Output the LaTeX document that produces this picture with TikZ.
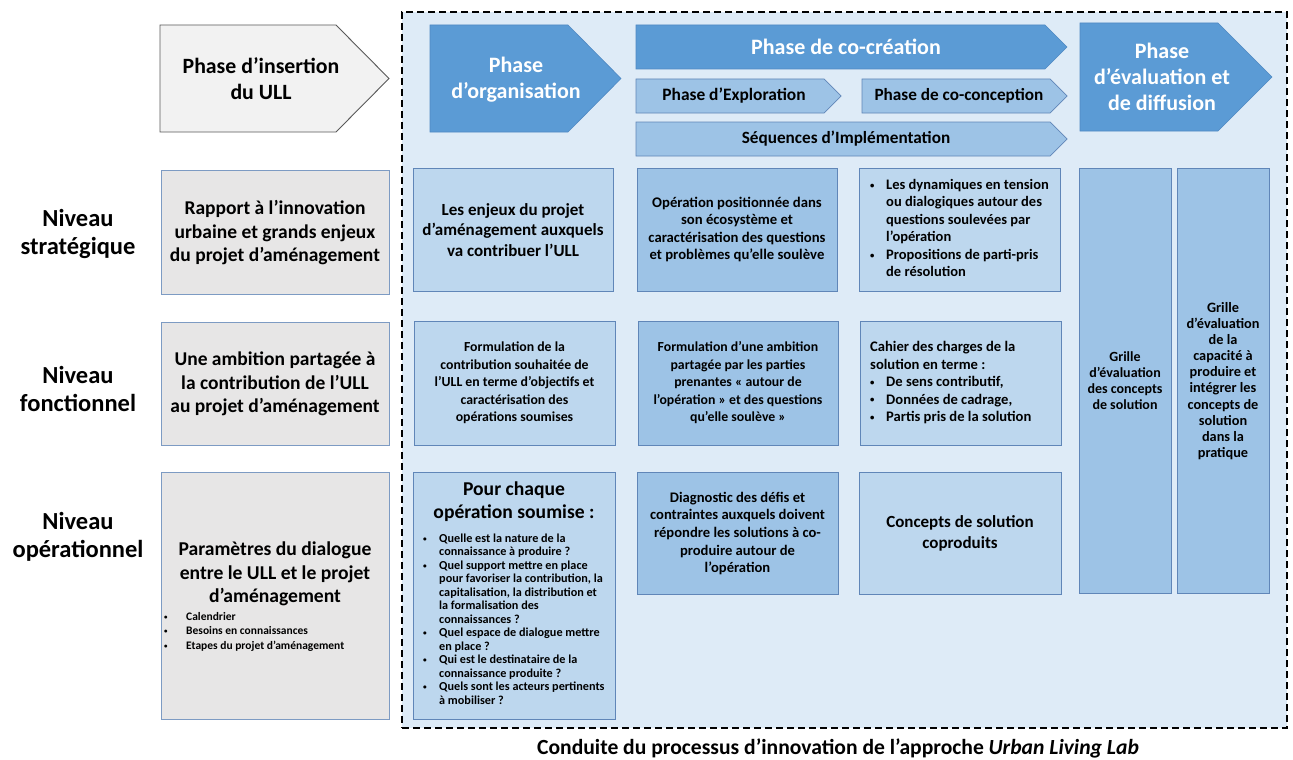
\documentclass[tikz,border=0pt]{standalone}
\usepackage{fontspec}
\setmainfont{Carlito}
\definecolor{bgblue}{RGB}{222,235,247}
\definecolor{darkchev}{RGB}{91,155,213}
\definecolor{darkchevline}{RGB}{80,137,195}
\definecolor{midblue}{RGB}{157,195,230}
\definecolor{lightblue}{RGB}{189,215,238}
\definecolor{boxline}{RGB}{96,134,184}
\definecolor{grayline}{RGB}{125,155,195}
\definecolor{grayfill}{RGB}{231,230,230}
\definecolor{insfill}{RGB}{242,242,242}
\definecolor{insline}{RGB}{89,89,89}
\newcommand\fs[2]{\fontsize{#1}{#2}\selectfont\bfseries}
\newcommand\chev[6]{\draw[#1] (#2,#3) -- (#4,#3) -- (#5,{(#3+#6)/2}) -- (#4,#6) -- (#2,#6) -- cycle;}
\newcommand\bu[1]{\makebox[#1pt][l]{\raisebox{0.08em}{\scalebox{0.6}{•}}}&}
\begin{document}
\begin{tikzpicture}[x=1pt,y=-1pt,
  box/.style={draw=boxline, line width=0.8pt, inner sep=0pt},
  lbox/.style={box, fill=lightblue},
  mbox/.style={box, fill=midblue},
  gbox/.style={box, draw=grayline, fill=grayfill},
  txt/.style={inner sep=0pt, align=center},
  darkc/.style={fill=darkchev, draw=darkchevline, line width=0.6pt},
  midc/.style={fill=midblue, draw=boxline, line width=0.7pt},
  insc/.style={fill=insfill, draw=insline, line width=0.9pt},
  wtxt/.style={txt, text=white}]
\useasboundingbox (0,0) rectangle (1293,760);
\fill[white] (0,0) rectangle (1293,760);

% frame
\node[draw=black, fill=bgblue, line width=2.3pt, dash pattern=on 7pt off 4pt,
  minimum width=885pt, minimum height=716pt, inner sep=0pt] (frame) at (844.5,370) {};

% chevrons
\chev{insc}{160}{25}{336}{389}{132}
\node[txt, font=\fs{21.8}{26}] (ins) at (261,79) {Phase d’insertion\\du ULL};
\chev{darkc}{430}{25}{568}{621}{132}
\node[wtxt, font=\fs{22}{26}] (org) at (516,80) {Phase\\d’organisation};
\chev{darkc}{636}{25}{1045}{1067}{69}
\node[wtxt, font=\fs{22}{26}] (cocrea) at (846,47) {Phase de co-création};
\chev{midc}{636}{79}{824}{841}{113}
\node[txt, font=\fs{17.4}{19}] (explo) at (734,96) {Phase d’Exploration};
\chev{midc}{862}{79}{1050}{1067}{113}
\node[txt, font=\fs{17.2}{19}] (cocon) at (959,96) {Phase de co-conception};
\chev{midc}{636}{122}{1050}{1067}{156}
\node[txt, font=\fs{17.2}{19}] (seq) at (846,139) {Séquences d’Implémentation};
\chev{darkc}{1080}{23}{1218}{1272}{131}
\node[wtxt, font=\fs{22}{26}] (eval) at (1162,77) {Phase\\d’évaluation et\\de diffusion};

% level labels
\node[txt, font=\fs{24.5}{28.5}] (nstrat) at (78,234) {Niveau\\stratégique};
\node[txt, font=\fs{24.5}{28.5}] (nfonc) at (78,389) {Niveau\\fonctionnel};
\node[txt, font=\fs{24.5}{28.5}] (nop) at (78,537) {Niveau\\opérationnel};

% left gray boxes
\node[gbox, minimum width=228pt, minimum height=124pt] (rap) at (275,232) {};
\node[txt, font=\fs{19.5}{23.5}] (rapt) at (275,233) {Rapport à l’innovation\\urbaine et grands enjeux\\du projet d’aménagement};
\node[gbox, minimum width=228pt, minimum height=123pt] (amb) at (275,383.5) {};
\node[txt, font=\fs{19.5}{23.5}] (ambt) at (275,384) {Une ambition partagée à\\la contribution de l’ULL\\au projet d’aménagement};
\node[gbox, minimum width=228pt, minimum height=247pt] (par) at (275,595.5) {};
\node[txt, font=\fs{19.6}{23.5}] (part) at (275,574) {Paramètres du dialogue\\entre le ULL et le projet\\d’aménagement};
\node[inner sep=0pt, anchor=west, font=\fs{11.5}{14.5}] (parl) at (164,632)
  {\begin{tabular}{@{}l@{}l@{}}\bu{22}Calendrier\\\bu{22}Besoins en connaissances\\\bu{22}Etapes du projet d’aménagement\end{tabular}};

% row 1
\node[lbox, minimum width=200pt, minimum height=123pt] (a1) at (513,229.5) {};
\node[txt, font=\fs{17}{20.5}] (a1t) at (513,230) {Les enjeux du projet\\d’aménagement auxquels\\va contribuer l’ULL};
\node[mbox, minimum width=200pt, minimum height=123pt] (b1) at (737,229.5) {};
\node[txt, font=\fs{14.7}{17.5}] (b1t) at (737,229.5) {Opération positionnée dans\\son écosystème et\\caractérisation des questions\\et problèmes qu’elle soulève};
\node[lbox, minimum width=201pt, minimum height=123pt] (c1) at (959.5,229.5) {};
\node[inner sep=0pt, anchor=west, font=\fs{14.5}{17.5}] (c1t) at (870,229.5)
  {\begin{tabular}{@{}l@{}l@{}}\bu{16}Les dynamiques en tension\\&ou dialogiques autour des\\&questions soulevées par\\&l’opération\\\bu{16}Propositions de parti-pris\\&de résolution\end{tabular}};

% tall boxes
\node[mbox, minimum width=92pt, minimum height=425pt] (d) at (1125,380.5) {};
\node[txt, font=\fs{14}{16}] (dt) at (1125,380.5) {Grille\\d’évaluation\\des concepts\\de solution};
\node[mbox, minimum width=92pt, minimum height=425pt] (e) at (1223,380.5) {};
\node[txt, font=\fs{14.3}{16.1}] (et) at (1223,381) {Grille\\d’évaluation\\de la\\capacité à\\produire et\\intégrer les\\concepts de\\solution\\dans la\\pratique};

% row 2
\node[lbox, minimum width=201pt, minimum height=124pt] (a2) at (514.5,383) {};
\node[txt, font=\fs{13.8}{17.5}] (a2t) at (514.5,383) {Formulation de la\\contribution souhaitée de\\l’ULL en terme d’objectifs et\\caractérisation des\\opérations soumises};
\node[mbox, minimum width=200pt, minimum height=124pt] (b2) at (738,383) {};
\node[txt, font=\fs{13.8}{17.5}] (b2t) at (738,383) {Formulation d’une ambition\\partagée par les parties\\prenantes « autour de\\l’opération » et des questions\\qu’elle soulève »};
\node[lbox, minimum width=201pt, minimum height=124pt] (c2) at (960.5,383) {};
\node[inner sep=0pt, anchor=west, font=\fs{14.6}{17.5}] (c2t) at (870,383)
  {\begin{tabular}{@{}l@{}l@{}}\multicolumn{2}{@{}l@{}}{Cahier des charges de la}\\\multicolumn{2}{@{}l@{}}{solution en terme :}\\\bu{16}De sens contributif,\\\bu{16}Données de cadrage,\\\bu{16}Partis pris de la solution\end{tabular}};

% row 3
\node[lbox, minimum width=202pt, minimum height=247pt] (a3) at (514,595.5) {};
\node[txt, font=\fs{19.6}{23}] (a3t) at (514,502) {Pour chaque\\opération soumise :};
\node[inner sep=0pt, anchor=west, font=\fs{12.2}{13.5}] (a3l) at (423,620.5)
  {\begin{tabular}{@{}l@{}l@{}}\bu{16}Quelle est la nature de la\\&connaissance à produire ?\\\bu{16}Quel support mettre en place\\&pour favoriser la contribution, la\\&capitalisation, la distribution et\\&la formalisation des\\&connaissances ?\\\bu{16}Quel espace de dialogue mettre\\&en place ?\\\bu{16}Qui est le destinataire de la\\&connaissance produite ?\\\bu{16}Quels sont les acteurs pertinents\\&à mobiliser ?\end{tabular}};
\node[mbox, minimum width=201pt, minimum height=122pt] (b3) at (737.5,533) {};
\node[txt, font=\fs{14.6}{17.7}] (b3t) at (737.5,533.5) {Diagnostic des défis et\\contraintes auxquels doivent\\répondre les solutions à co-\\produire autour de\\l’opération};
\node[lbox, minimum width=202pt, minimum height=122pt] (c3) at (960,533) {};
\node[txt, font=\fs{17}{21}] (c3t) at (960,533.5) {Concepts de solution\\coproduits};

% caption
\node[txt, font=\fs{21.6}{24}] (cap) at (838,748) {Conduite du processus d’innovation de l’approche \textit{Urban Living Lab}};
\end{tikzpicture}
\end{document}
